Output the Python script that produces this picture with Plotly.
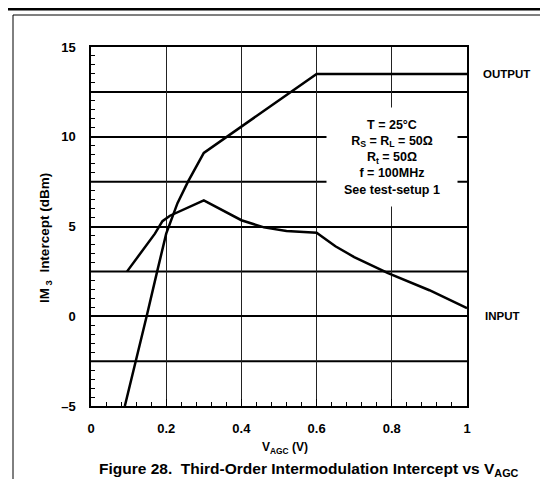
import plotly.graph_objects as go

# Data
output_x = [0.09, 0.12, 0.148, 0.176, 0.2, 0.23, 0.258, 0.3, 0.6, 1.0]
output_y = [-5.0, -2.5, 0.0, 2.5, 4.6, 6.3, 7.5, 9.1, 13.5, 13.5]
input_x = [0.096, 0.17, 0.19, 0.21, 0.3, 0.35, 0.4, 0.46, 0.52, 0.6, 0.65, 0.7, 0.79, 0.9, 1.0]
input_y = [2.5, 4.6, 5.3, 5.6, 6.45, 5.9, 5.35, 4.95, 4.75, 4.65, 3.9, 3.3, 2.4, 1.45, 0.45]

x_tickvals = [0, 0.2, 0.4, 0.6, 0.8, 1.0]
x_ticktext = ["0", "0.2", "0.4", "0.6", "0.8", "1"]
y_tickvals = [-5, 0, 5, 10, 15]
y_ticktext = ["–5", "0", "5", "10", "15"]
y_halfgrid = [-2.5, 2.5, 7.5, 12.5]

conditions = ["T = 25°C", "R<sub>S</sub> = R<sub>L</sub> = 50Ω", "R<sub>t</sub> = 50Ω",
              "f = 100MHz", "See test-setup 1"]

FONT = "Liberation Sans, Arial, Helvetica, sans-serif"

fig = go.Figure()
fig.add_trace(go.Scatter(x=output_x, y=output_y, mode="lines",
                         line=dict(color="black", width=2.5), showlegend=False))
fig.add_trace(go.Scatter(x=input_x, y=input_y, mode="lines",
                         line=dict(color="black", width=2.5), showlegend=False))

W, H = 548, 479
L, R, T, B = 83, 459, 39, 398
pw, ph = R - L, B - T

def px(xp):
    return (xp - L) / pw

def py(yp):
    return (B - yp) / ph

fig.update_layout(
    width=W, height=H,
    margin=dict(l=L, r=W - R, t=T, b=H - B),
    paper_bgcolor="white", plot_bgcolor="white",
    font=dict(family=FONT, color="black", size=12),
    showlegend=False,
)

fig.update_xaxes(
    range=[0, 1], tickvals=x_tickvals, ticktext=x_ticktext,
    showgrid=True, gridcolor="#222", gridwidth=1,
    showline=True, linecolor="black", linewidth=1.5, mirror=True,
    ticks="inside", ticklen=7, tickcolor="black", tickwidth=1,
    minor=dict(dtick=0.04, ticks="inside", ticklen=4, tickcolor="black", showgrid=False),
    tickfont=dict(family=FONT, size=13, weight="bold"),
    ticklabelstandoff=10,
    zeroline=False,
)
fig.update_yaxes(
    range=[-5, 15], tickvals=y_tickvals, ticktext=y_ticktext,
    showgrid=True, gridcolor="black", gridwidth=1.5,
    showline=True, linecolor="black", linewidth=1.5, mirror=True,
    ticks="inside", ticklen=7, tickcolor="black", tickwidth=1,
    minor=dict(dtick=0.5, ticks="inside", ticklen=4, tickcolor="black", showgrid=False),
    tickfont=dict(family=FONT, size=13, weight="bold"),
    ticklabelstandoff=11,
    zeroline=False,
)

# Intermediate horizontal gridlines at the half-steps
for yv in y_halfgrid:
    fig.add_shape(type="line", xref="x", yref="y", x0=0, x1=1, y0=yv, y1=yv,
                  line=dict(color="black", width=2), layer="below")

# Conditions text box (white background hides gridlines)
fig.add_annotation(
    x=0.8, y=8.9, xref="x", yref="y", text="<br>".join(conditions),
    showarrow=False, bgcolor="white", width=128, height=96,
    font=dict(family=FONT, size=12.5, weight="bold"), align="center",
    xanchor="center", yanchor="middle",
)

# Curve labels
fig.add_annotation(x=px(473), y=13.5, xref="paper", yref="y", text="OUTPUT",
                   showarrow=False, xanchor="left", yanchor="middle",
                   font=dict(family=FONT, size=11.5, weight="bold"))
fig.add_annotation(x=px(475), y=0, xref="paper", yref="y", text="INPUT",
                   showarrow=False, xanchor="left", yanchor="middle",
                   font=dict(family=FONT, size=11.5, weight="bold"))

# Axis titles
fig.add_annotation(x=px(277), y=py(440), xref="paper", yref="paper",
                   text="V<sub>AGC</sub> (V)", showarrow=False,
                   xanchor="center", yanchor="middle",
                   font=dict(family=FONT, size=12, weight="bold"))
fig.add_annotation(x=px(37), y=py(230), xref="paper", yref="paper",
                   text="IM<sub> 3</sub>  Intercept (dBm)", showarrow=False,
                   textangle=-90, xanchor="center", yanchor="middle",
                   font=dict(family=FONT, size=13.5, weight="bold"))

# Figure caption
fig.add_annotation(x=px(301), y=py(461), xref="paper", yref="paper",
                   text="Figure 28.  Third-Order Intermodulation Intercept vs V<sub>AGC</sub>",
                   showarrow=False, xanchor="center", yanchor="middle",
                   font=dict(family=FONT, size=15.5, weight="bold"))

# Outer frame and top rule
fig.add_shape(type="rect", xref="paper", yref="paper",
              x0=px(5), x1=px(545), y0=py(477), y1=py(7),
              line=dict(color="black", width=1), layer="below")
fig.add_shape(type="line", xref="paper", yref="paper",
              x0=px(0), x1=px(548), y0=py(1), y1=py(1),
              line=dict(color="black", width=3))

fig.write_html("out.html")
